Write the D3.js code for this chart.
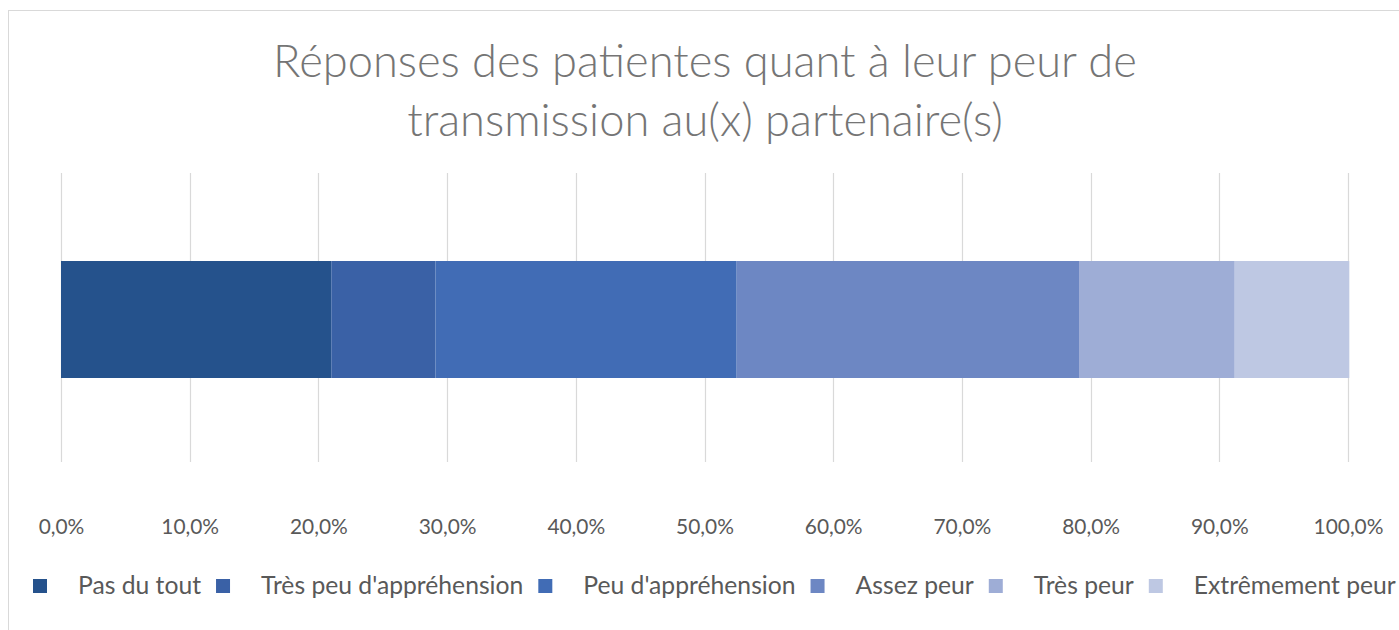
<!DOCTYPE html>
<html>
<head>
<meta charset="utf-8">
<title>Peur de transmission</title>
<script src="https://d3js.org/d3.v7.min.js"></script>
<style>
  body { margin: 0; background: #fff; }
  svg text { font-family: Lato, "Open Sans", sans-serif; }
</style>
</head>
<body>
<div id="chart"></div>
<script>
"use strict"

// donnees (% des reponses)
var categories = ["Pas du tout", "Très peu d'appréhension", "Peu d'appréhension", "Assez peur", "Très peur", "Extrêmement peur"];
var valeurs = [21.0, 8.1, 23.4, 26.6, 12.1, 8.9];
var couleurs = ["#25528c", "#3a61a6", "#416cb5", "#6d87c3", "#9eadd6", "#bec8e3"];
var ticks = [0, 10, 20, 30, 40, 50, 60, 70, 80, 90, 100];
var titre = ["Réponses des patientes quant à leur peur de", "transmission au(x) partenaire(s)"];

var largeur = 1399, hauteur = 630;

var svg = d3.select("#chart").append("svg")
  .attr("width", largeur)
  .attr("height", hauteur);

// cadre du graphique
svg.append("rect")
  .attr("x", 8.5).attr("y", 10.5)
  .attr("width", 1400).attr("height", 640)
  .attr("fill", "#fff")
  .attr("stroke", "#d9d9d9");

// ajuste la taille de police pour une largeur voulue
function ajuste(sel, cible) {
  var l = sel.node().getComputedTextLength();
  var fs = parseFloat(sel.attr("font-size"));
  sel.attr("font-size", (fs * cible / l).toFixed(2));
}

var x = d3.scaleLinear().domain([0, 100]).range([61, 1348]);
var y = d3.scaleBand().domain(["serie"]).range([173, 466]).padding(0.4293);

// titre
var lignes = svg.append("g").selectAll("text")
  .data(titre)
  .enter().append("text")
  .attr("x", 705)
  .attr("y", function(d, i) { return 77 + i * 59; })
  .attr("text-anchor", "middle")
  .attr("font-size", 40)
  .attr("font-weight", 300)
  .attr("fill", "#757575")
  .text(function(d) { return d; });
var premiere = lignes.filter(function(d, i) { return i === 0; });
ajuste(premiere, 864);
lignes.attr("font-size", premiere.attr("font-size"));

// grille verticale
svg.append("g")
  .selectAll("line")
  .data(ticks)
  .enter().append("line")
  .attr("x1", function(d) { return Math.round(x(d)) + 0.5; })
  .attr("x2", function(d) { return Math.round(x(d)) + 0.5; })
  .attr("y1", 173).attr("y2", 462)
  .attr("stroke", "#d9d9d9")
  .attr("stroke-width", 1.2);

// barre empilee
var cumul = d3.cumsum(valeurs);
var segments = valeurs.map(function(v, i) {
  return { cat: categories[i], debut: cumul[i] - v, fin: cumul[i], couleur: couleurs[i] };
});

svg.append("g")
  .selectAll("rect")
  .data(segments)
  .enter().append("rect")
  .attr("x", function(d) { return x(d.debut); })
  .attr("y", y("serie"))
  .attr("width", function(d) { return x(d.fin) - x(d.debut); })
  .attr("height", y.bandwidth())
  .attr("fill", function(d) { return d.couleur; });

// etiquettes de l'axe x
var fmt = function(d) { return d.toFixed(1).replace(".", ",") + "%"; };
var axe = svg.append("g")
  .attr("transform", "translate(0,462)")
  .call(d3.axisBottom(x).tickValues(ticks).tickFormat(fmt).tickSize(0).tickPadding(0));
axe.select(".domain").remove();
axe.selectAll("text")
  .attr("y", 72).attr("dy", 0)
  .attr("fill", "#595959")
  .attr("font-size", 20)
  .attr("font-family", "Lato, sans-serif");
var dernier = axe.selectAll("text").filter(function(d) { return d === 100; });
var fsTick = 20 * 70 / dernier.node().getComputedTextLength();
axe.selectAll("text").attr("font-size", fsTick.toFixed(2));

// legende
var leg = svg.append("g");
var items = leg.selectAll("g")
  .data(categories)
  .enter().append("g");
items.append("rect")
  .attr("width", 14).attr("height", 14)
  .attr("y", 579)
  .attr("fill", function(d, i) { return couleurs[i]; });
var textes = items.append("text")
  .attr("y", 594)
  .attr("fill", "#595959")
  .attr("font-size", 20)
  .text(function(d) { return d; });
var somme = 0;
textes.each(function() { somme += this.getComputedTextLength(); });
textes.attr("font-size", (20 * 1018 / somme).toFixed(2));

var pos = 33;
items.each(function() {
  var g = d3.select(this);
  g.select("rect").attr("x", pos);
  g.select("text").attr("x", pos + 45);
  pos += 45 + g.select("text").node().getComputedTextLength() + 15;
});
</script>
</body>
</html>
